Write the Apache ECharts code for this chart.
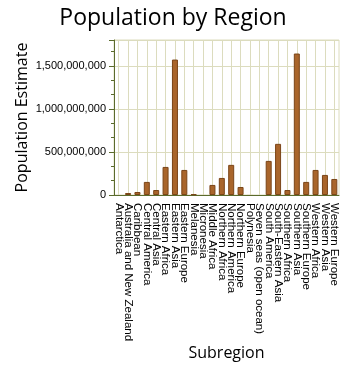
<!DOCTYPE html>
<html>
<head>
<meta charset="utf-8">
<script src="https://cdn.jsdelivr.net/npm/echarts@6/dist/echarts.min.js"></script>
<style>
  html, body { margin: 0; padding: 0; background: #ffffff; }
  #chart { width: 346px; height: 366px; }
</style>
</head>
<body>
<div id="chart"></div>
<script>
// Subregions along the x axis
const subregions = [
  "Antarctica", "Australia and New Zealand", "Caribbean", "Central America",
  "Central Asia", "Eastern Africa", "Eastern Asia", "Eastern Europe",
  "Melanesia", "Micronesia", "Middle Africa", "Northern Africa",
  "Northern America", "Northern Europe", "Polynesia", "Seven seas (open ocean)",
  "South America", "South-Eastern Asia", "Southern Africa", "Southern Asia",
  "Southern Europe", "Western Africa", "Western Asia", "Western Europe"
];

// Estimated population per subregion
const populationEstimate = [
  4000, 23000000, 35000000, 152000000,
  58000000, 326000000, 1573000000, 291000000,
  9000000, 500000, 117000000, 198000000,
  350000000, 93000000, 600000, 140,
  396000000, 594000000, 58000000, 1643000000,
  152000000, 291000000, 233000000, 186000000
];

// Value axis range and tick spacing
const yMin = 0;
const yMax = 1800000000;
const yInterval = 500000000;

const labelFont = "Liberation Sans";
const gridLineColor = "#dcdcbe";
const axisColor = "#5b6b2c";
const barStyle = { color: "#a9652b", borderColor: "#7a4518", borderWidth: 1 };

// bars too short to show up get no outline, so they stay invisible
const barData = populationEstimate.map(v =>
  v < 2000000 ? { value: v, itemStyle: { borderWidth: 0 } } : v
);

const chart = echarts.init(document.getElementById("chart"), null, { renderer: "canvas" });

chart.setOption({
  animation: false,
  backgroundColor: "#ffffff",
  title: {
    text: "Population by Region",
    left: "center",
    top: 2,
    textStyle: { fontFamily: "Open Sans", fontSize: 23, fontWeight: "normal", color: "#000000" }
  },
  grid: [
    {
      left: 114, right: 7, top: 40, bottom: 171,
      outerBoundsMode: "none",
      show: true, borderColor: gridLineColor, borderWidth: 1
    },
    // second grid, inset by half a category, carries the vertical lines through category centres
    { left: 118.7, right: 11.7, top: 40, bottom: 171, outerBoundsMode: "none", show: false }
  ],
  xAxis: [
    {
      type: "category",
      gridIndex: 0,
      data: subregions,
      name: "Subregion",
      nameLocation: "middle",
      nameGap: 150,
      nameMoveOverlap: false,
      nameTextStyle: { fontFamily: "Open Sans", fontSize: 16, color: "#000000" },
      axisLine: { lineStyle: { color: axisColor, width: 1 } },
      axisTick: { alignWithLabel: true, length: 5, lineStyle: { color: axisColor } },
      axisLabel: {
        interval: 0, rotate: -90, margin: 8,
        fontFamily: labelFont, fontSize: 11.5, color: "#000000"
      },
      splitLine: { show: false }
    },
    {
      type: "category",
      gridIndex: 1,
      data: subregions,
      boundaryGap: false,
      axisLine: { show: false },
      axisTick: { show: false },
      axisLabel: { show: false },
      splitLine: { show: true, interval: 0, lineStyle: { color: gridLineColor, width: 1 } }
    }
  ],
  yAxis: [
    {
      type: "value",
      gridIndex: 0,
      min: yMin,
      max: yMax,
      interval: yInterval,
      name: "Population Estimate",
      nameLocation: "middle",
      nameGap: 84,
      nameMoveOverlap: false,
      nameTextStyle: { fontFamily: "Open Sans", fontSize: 16, color: "#000000" },
      axisLine: { show: true, lineStyle: { color: axisColor, width: 1 } },
      axisTick: { show: true, length: 5, lineStyle: { color: axisColor } },
      minorTick: { show: true, splitNumber: 3, length: 3, lineStyle: { color: axisColor } },
      axisLabel: {
        margin: 8,
        fontFamily: labelFont, fontSize: 11, color: "#000000",
        formatter: v => v.toLocaleString("en-US"),
        showMaxLabel: false
      },
      splitLine: { show: true, lineStyle: { color: gridLineColor, width: 1 } }
    },
    {
      type: "value",
      gridIndex: 1,
      min: yMin,
      max: yMax,
      show: false,
      splitLine: { show: false }
    }
  ],
  series: [
    {
      type: "bar",
      xAxisIndex: 0,
      yAxisIndex: 0,
      data: barData,
      barWidth: "64%",
      itemStyle: barStyle
    }
  ]
});
</script>
</body>
</html>
